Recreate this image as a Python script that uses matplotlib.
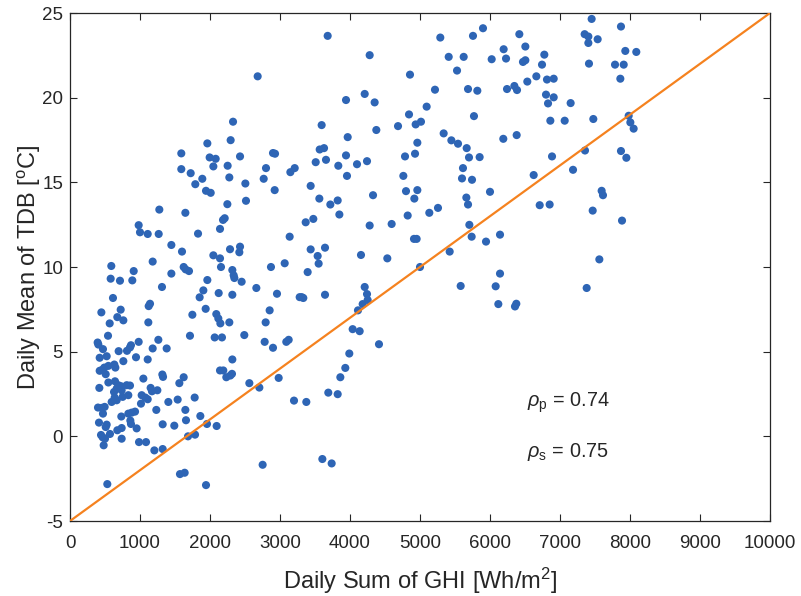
import matplotlib
matplotlib.use("Agg")
import matplotlib.pyplot as plt

plt.rcParams['font.family'] = ['Liberation Sans', 'DejaVu Sans']
plt.rcParams['mathtext.fontset'] = 'custom'
plt.rcParams['mathtext.rm'] = 'Liberation Sans'
plt.rcParams['mathtext.it'] = 'Liberation Sans:italic'
plt.rcParams['axes.unicode_minus'] = False

ghi = [
    # upper-left region
    2681, 2329, 1962, 2295, 1590, 1995, 2081, 2429, 2900, 2929, 1590, 1724, 2048, 2252, 2800,
    1890, 2276, 2767, 3148, 3210,
    # upper-middle region
    3681, 4281, 5290, 5757, 5900, 6419, 6505, 5410, 5624, 6195, 6229, 6024, 6471, 6505, 5529,
    4857, 6533, 5214, 5686, 5819, 6243, 6348, 6386, 3943, 4210, 4352, 5095, 4843, 5771, 3595,
    4938, 5014, 4686, 4376, 3967, 5338, 5448, 5543, 5667, 6190, 6381, 4962, 3567, 3629, 3943,
    4786, 4929, 5700, 5852, 3657, 3510, 3833, 4100, 4243, 5614, 3957, 4762, 5600, 5743,
    # upper-right region
    7452, 7871, 7352, 7405, 7405, 7538, 7933, 8090, 6776, 6743, 7414, 7786, 7910, 6662, 6814,
    6910, 7862, 6800, 6910, 6829, 7152, 6862, 7067, 7476, 7981, 8005, 8052, 7357, 7871, 7948,
    6886, 7186, 6624,
    # middle-right region
    6710, 6852, 7467, 7595, 7614, 7886, 7562, 7381,
    # middle region
    3438, 3562, 3719, 3824, 3848, 4329, 4800, 4962, 4919, 4824, 5133, 5257, 6000, 5662, 5686,
    3367, 3476, 4281, 4595, 4914, 4952, 5705, 5738, 5943, 6143, 3438, 3643, 3538, 3552, 3395,
    4157, 4533, 5424, 5000, 6143, 5581, 6081, 3310, 3333, 3643, 4210, 4243, 4252, 4181, 4114,
    6119, 6357, 6376, 4038, 4138, 4414,
    # lower-middle region
    3990, 3933, 3862, 3690, 3824, 3376, 3605, 3738,
    # middle-left region
    1790, 1943, 2010, 2505, 2924, 2248, 2514, 1276, 1648, 981, 1000, 1110, 1267, 1829, 2143,
    2186, 2210, 3138, 1448, 1600, 2286, 2429, 2419, 2048, 2143, 2157, 1181, 590, 910, 581,
    714, 890, 1448, 1624, 1652, 1700, 1962, 2319, 2338, 2348, 2452, 1314, 1905, 1852, 2124,
    2319, 2662, 2957, 3067, 2871, 3281, 614, 448, 724, 676, 762, 567, 1143, 1124, 1119,
    1748, 1938, 2090, 2119, 2148, 2276, 2852, 2795, 543, 1714, 2067, 2171, 2490,
    # lower-left region
    395, 405, 981, 1262, 2781, 3090, 3124, 471, 695, 814, 857, 871, 1181, 1381, 2900,
    424, 524, 762, 943, 1110, 633, 648, 2319, 424, 457, 490, 510, 548, 1048, 1319,
    1329, 1624, 1562, 2143, 2190, 2233, 2290, 2314, 2981, 2562, 2705, 419, 548, 643, 690,
    729, 810, 857, 667, 629, 738, 833, 638, 595, 667, 752, 1024, 1076, 1110, 1152,
    1171, 1248, 1781, 1538, 1405, 1014, 1233, 1648, 400, 452, 495, 471, 733, 833, 881,
    929, 862, 871, 952, 1862, 1657, 414, 524, 510, 1324, 1490, 1957, 2095, 443, 467,
    571, 500, 481, 676, 738, 738, 986, 1086, 1205, 1324, 1686, 1786, 3200, 2752, 1571,
    1638, 1943, 533,
]

tdb = [
    # upper-left region
    21.26, 18.58, 17.30, 17.49, 16.71, 16.47, 16.39, 16.53, 16.73, 16.69, 15.78, 15.54, 15.94, 15.98, 15.84,
    15.21, 15.29, 15.21, 15.60, 15.84,
    # upper-middle region
    23.65, 22.51, 23.55, 23.65, 24.10, 23.75, 23.02, 22.41, 22.41, 22.86, 22.31, 22.27, 22.11, 22.21, 21.60,
    21.36, 20.95, 20.47, 20.51, 20.41, 20.51, 20.69, 20.45, 19.86, 20.22, 19.72, 19.47, 19.01, 18.91, 18.38,
    18.42, 18.58, 18.32, 18.09, 17.67, 17.89, 17.48, 17.28, 17.02, 17.57, 17.79, 17.34, 16.94, 17.02, 16.59,
    16.53, 16.69, 16.47, 16.49, 16.33, 16.19, 15.98, 16.07, 16.25, 15.84, 15.38, 15.38, 15.23, 15.15,
    # upper-right region
    24.65, 24.20, 23.75, 23.61, 23.23, 23.45, 22.76, 22.70, 22.54, 21.95, 22.01, 21.95, 21.95, 21.26, 21.07,
    21.12, 21.12, 20.18, 20.02, 19.66, 19.68, 18.64, 18.64, 18.74, 18.93, 18.54, 18.17, 16.88, 16.85, 16.45,
    16.53, 15.74, 15.43,
    # middle-right region
    13.65, 13.69, 13.33, 14.50, 14.24, 12.74, 10.45, 8.76,
    # middle region
    14.79, 14.04, 13.69, 13.93, 13.10, 14.24, 14.48, 14.54, 14.04, 13.04, 13.20, 13.49, 14.44, 14.10, 13.69,
    12.64, 12.84, 12.45, 12.54, 11.66, 11.66, 12.49, 11.79, 11.50, 11.91, 11.04, 11.14, 10.65, 10.20, 9.70,
    10.71, 10.51, 10.91, 10.00, 9.61, 8.88, 8.86, 8.22, 8.17, 8.36, 8.82, 8.40, 8.05, 7.81, 7.44,
    7.81, 7.67, 7.83, 6.33, 6.21, 5.44,
    # lower-middle region
    4.89, 4.04, 3.49, 2.58, 2.49, 2.03, -1.34, -1.60,
    # middle-left region
    14.89, 14.50, 14.38, 14.93, 14.54, 13.71, 13.91, 13.39, 13.20, 12.47, 12.05, 11.95, 11.95, 11.97, 12.25,
    12.78, 12.88, 11.79, 11.30, 10.91, 11.05, 11.20, 10.87, 10.69, 10.51, 10.00, 10.32, 10.06, 9.76, 9.31,
    9.19, 9.21, 9.61, 10.00, 9.86, 9.76, 9.23, 9.82, 9.51, 9.35, 9.13, 8.82, 8.62, 8.21, 8.46,
    8.36, 8.76, 8.42, 10.22, 10.00, 8.22, 8.17, 7.32, 7.48, 7.04, 6.85, 6.67, 7.83, 7.69, 6.73,
    7.18, 7.53, 7.22, 6.96, 6.67, 6.73, 7.44, 6.73, 5.94, 5.94, 5.84, 5.84, 5.98,
    # lower-left region
    5.54, 5.42, 5.58, 5.70, 5.58, 5.58, 5.70, 5.15, 5.03, 5.05, 5.25, 5.38, 5.19, 5.19, 5.23,
    4.64, 4.73, 4.44, 4.67, 4.54, 4.24, 4.06, 4.54, 3.87, 3.92, 4.06, 3.67, 4.16, 3.41, 3.65,
    3.51, 3.49, 3.14, 3.89, 3.89, 3.49, 3.59, 3.69, 3.45, 3.14, 2.88, 2.86, 3.18, 3.25, 3.02,
    2.96, 3.02, 3.00, 2.82, 2.62, 2.72, 2.43, 2.29, 2.03, 2.13, 2.33, 2.43, 2.29, 2.19, 2.86,
    2.66, 2.72, 2.29, 2.17, 2.03, 1.93, 1.56, 1.56, 1.70, 1.68, 1.74, 1.34, 1.17, 1.34, 1.40,
    1.46, 0.93, 0.73, 0.47, 1.20, 0.95, 0.81, 0.69, 0.55, 0.71, 0.63, 0.73, 0.61, 0.08, -0.06,
    0.14, -0.14, -0.53, 0.36, 0.49, -0.14, -0.34, -0.34, -0.83, -0.75, 0.00, 0.10, 2.11, -1.68, -2.23,
    -2.15, -2.88, -2.82,
]

ref_x = [0, 10000]
ref_y = [-5, 25]

rho_labels = [r'$\mathit{\rho}_{\mathrm{p}}$ = 0.74', r'$\mathit{\rho}_{\mathrm{s}}$ = 0.75']

x_ticks = list(range(0, 10001, 1000))
y_ticks = list(range(-5, 26, 5))

fig = plt.figure(figsize=(8.01, 5.96), dpi=100)
ax = fig.add_axes([70/801, 1 - 521/596, 700/801, 508/596])

ax.scatter(ghi, tdb, s=34, color='#2E65B5', edgecolors='none', zorder=2)
ax.plot(ref_x, ref_y, color='#F5821F', lw=1.6, zorder=3)

ax.set_xlim(0, 10000)
ax.set_ylim(-5, 25)
ax.set_xticks(x_ticks)
ax.set_yticks(y_ticks)
ax.tick_params(direction='in', top=True, right=True, length=5, width=0.8,
               labelsize=13.5, colors='#262626')
ax.tick_params(axis='x', pad=10)
ax.tick_params(axis='y', pad=5)
for sp in ax.spines.values():
    sp.set_color('#262626')
    sp.set_linewidth(0.9)

ax.set_xlabel(r'Daily Sum of GHI [Wh/m$^2$]', fontsize=17, color='#262626', labelpad=10)
ax.set_ylabel(r'Daily Mean of TDB [$^\mathrm{o}$C]', fontsize=17, color='#262626', labelpad=-1)

ax.text(6530, 2.0, rho_labels[0], fontsize=14.3, color='#262626', va='center', ha='left')
ax.text(6530, -0.95, rho_labels[1], fontsize=14.3, color='#262626', va='center', ha='left')

fig.savefig('out.png', dpi=100)
